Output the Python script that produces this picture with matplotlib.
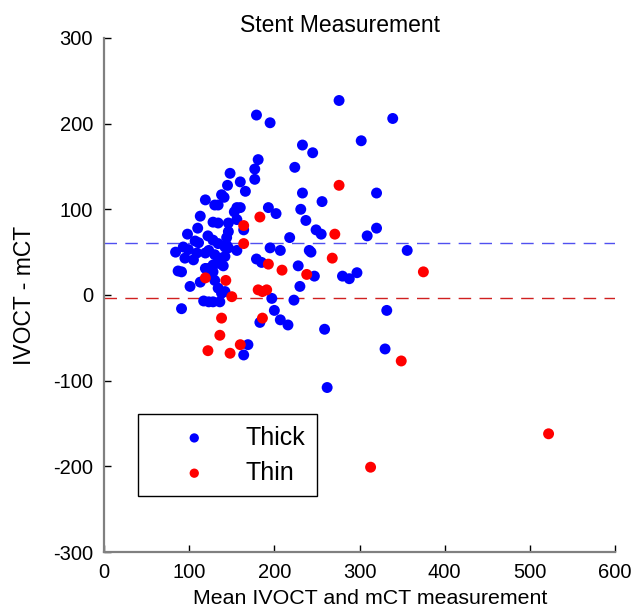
import matplotlib

matplotlib.use("Agg")
import matplotlib.pyplot as plt

plt.rcParams["font.family"] = ["Liberation Sans", "DejaVu Sans"]
plt.rcParams["axes.unicode_minus"] = False

# Bland-Altman points: (mean, difference)
thick_x = [
    84, 87, 91, 91, 93, 99, 95, 105, 109, 98, 101, 107, 111, 110, 113, 113,
    119, 119, 119, 123, 122, 123, 123, 128, 117, 123, 128, 136, 128, 134,
    130, 134, 128, 134, 130, 136, 142, 128, 134, 140, 130, 134, 138, 142,
    138, 141, 142, 144, 146, 146, 146, 144, 145, 148, 153, 156, 160, 156,
    156, 160, 164, 166, 177, 177, 181, 179, 185, 179, 195, 193, 202, 195,
    207, 197, 200, 183, 207, 216, 169, 164, 218, 223, 224, 228, 230, 231,
    233, 245, 233, 237, 241, 243, 247, 249, 255, 256, 259, 262, 276, 280,
    288, 297, 302, 309, 320, 320, 332, 330, 339, 356,
]
thick_y = [
    50, 28, 27, -16, 56, 53, 43, 41, 49, 71, 10, 63, 61, 78, 92, 15,
    111, 49, 31, 31, 69, 52, 23, 27, -7, -8, -8, -8, 64, 60,
    105, 105, 85, 84, 47, 43, 45, 35, 37, 34, 17, 8, 2, 4,
    117, 114, 56, 58, 55, 84, 74, 67, 128, 142, 97, 102, 102, 88,
    52, 132, 76, 121, 147, 135, 158, 42, 38, 210, 201, 102, 95, 55,
    52, -4, -18, -32, -29, -35, -58, -70, 67, -6, 149, 34, 10, 100,
    175, 166, 119, 87, 52, 50, 22, 76, 71, 109, -40, -108, 227, 22,
    19, 26, 180, 69, 119, 78, -18, -63, 206, 52,
]
thin_x = [
    276, 183, 164, 164, 271, 268, 193, 209, 238, 119, 143, 150, 181, 186,
    191, 186, 138, 136, 160, 122, 148, 349, 375, 313, 522,
]
thin_y = [
    128, 91, 81, 60, 71, 43, 36, 29, 24, 20, 17, -2, 6, 4,
    6, -27, -27, -47, -58, -65, -68, -77, 27, -201, -162,
]
thick_mean = 61
thin_mean = -3

fig = plt.figure(figsize=(6.32, 6.12), dpi=100)
ax = fig.add_axes([0.1646, 0.098, 0.8085, 0.84])

ax.scatter(thick_x, thick_y, s=62, color="#0000ff", edgecolors="none",
           label="Thick", zorder=3)
ax.scatter(thin_x, thin_y, s=62, color="#ff0000", edgecolors="none",
           label="Thin", zorder=4)

ax.axhline(thick_mean, color="#5050f0", lw=1, dashes=(9, 6), zorder=2)
ax.axhline(thin_mean, color="#d02020", lw=1, dashes=(9, 6), zorder=2)

ax.set_xlim(0, 600)
ax.set_ylim(-300, 300)
ax.set_xticks(range(0, 601, 100))
ax.set_yticks(range(-300, 301, 100))

for side in ("top", "right"):
    ax.spines[side].set_visible(False)
for side in ("left", "bottom"):
    ax.spines[side].set_color("#808080")
    ax.spines[side].set_linewidth(1.6)

ax.tick_params(direction="in", length=5, width=1, color="black",
               labelsize=14.5, pad=8)

ax.set_title("Stent Measurement", fontsize=16.5, pad=4, x=0.462)
ax.set_xlabel("Mean IVOCT and mCT measurement", fontsize=15.4, labelpad=5,
              x=0.52)
ax.set_ylabel("IVOCT - mCT", fontsize=16.5, labelpad=12)

leg = ax.legend(loc="upper left", bbox_to_anchor=(0.0665, 0.268),
                fontsize=18, markerscale=0.85, frameon=True, fancybox=False,
                edgecolor="black", framealpha=1, borderpad=0.45,
                handlelength=3.6, handletextpad=0.25, labelspacing=0.45,
                borderaxespad=0)
leg.get_frame().set_linewidth(1)

fig.savefig("out.png", dpi=100)
